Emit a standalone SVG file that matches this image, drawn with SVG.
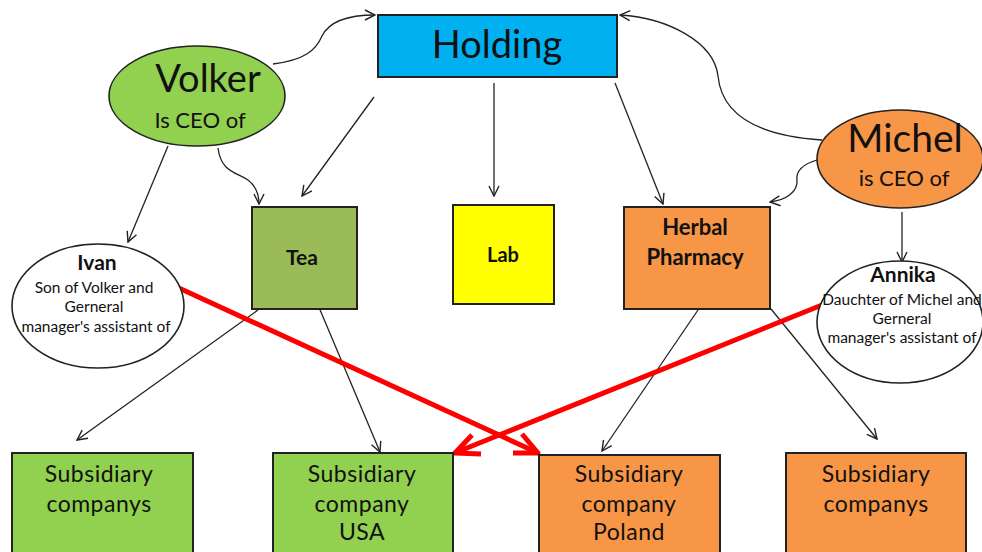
<svg xmlns="http://www.w3.org/2000/svg" width="982" height="552" viewBox="0 0 982 552">
  <style>
    text { font-family: Lato, "Liberation Sans", sans-serif; fill: #111; text-anchor: middle; }
    .box { stroke: #222; stroke-width: 2; }
    .oval { stroke: #222; stroke-width: 1.6; }
    .link { fill: none; stroke: #222; stroke-width: 1.3; marker-end: url(#arr); }
    .red { fill: none; stroke: #ff0000; stroke-width: 5; stroke-linejoin: round; }
    .b { font-weight: bold; }
    .note { font-size: 15.5px; }
    .sub { font-size: 23px; letter-spacing: 0.5px; }
  </style>
  <defs>
    <marker id="arr" viewBox="0 0 12 12" refX="11" refY="6" markerWidth="12" markerHeight="12" markerUnits="userSpaceOnUse" orient="auto">
      <path d="M1,1 L11,6 L1,11" fill="none" stroke="#222" stroke-width="1.4"/>
    </marker>
  </defs>

  <!-- connectors -->
  <g id="connectors">
    <path class="link" d="M273,64 C305,60 316,50 322,36 C330,20 350,15 375,15"/>
    <path class="link" d="M822,140 C762,136 722,118 718,76 C714,42 668,18 620,15"/>
    <path class="link" d="M218,148 C221,172 236,172 248,180 C257,187 259,196 259,204"/>
    <path class="link" d="M168,146 L128,242"/>
    <path class="link" d="M374,97 L302,196"/>
    <path class="link" d="M494,83 L494,196"/>
    <path class="link" d="M615,83 L663,204"/>
    <path class="link" d="M817,160 C800,165 796,172 797,180 C798,192 786,200 770,202"/>
    <path class="link" d="M902,212 L902,262"/>
    <path class="link" d="M258,310 L77,440"/>
    <path class="link" d="M318,305 L380,452"/>
    <path class="link" d="M698,310 L602,451"/>
    <path class="link" d="M771,309 L877,439"/>
    <!-- red cross-links with open heads -->
    <path class="red" d="M168,283 L536,452"/>
    <path class="red" d="M513,453 L538,453 L522,434"/>
    <path class="red" d="M822,305 L457,452"/>
    <path class="red" d="M481,454 L455,453 L472,435"/>
  </g>

  <g id="holding">
    <rect class="box" x="378" y="15" width="239" height="62" fill="#00b0f0"/>
    <text x="497" y="58" font-size="38">Holding</text>
  </g>

  <g id="volker">
    <ellipse class="oval" cx="197" cy="96" rx="88" ry="50" fill="#92d050"/>
    <text x="208" y="92" font-size="38">Volker</text>
    <text x="200" y="128" font-size="22">Is CEO of</text>
  </g>

  <g id="michel">
    <ellipse class="oval" cx="900" cy="159" rx="83" ry="49" fill="#f79646"/>
    <text x="905" y="152" font-size="39">Michel</text>
    <text x="904" y="186" font-size="22">is CEO of</text>
  </g>

  <g id="tea">
    <rect class="box" x="252" y="207" width="105" height="102" fill="#9bbb59"/>
    <text class="b" x="302" y="265" font-size="21">Tea</text>
  </g>

  <g id="lab">
    <rect class="box" x="453" y="205" width="101" height="99" fill="#ffff00"/>
    <text class="b" x="503" y="262" font-size="20">Lab</text>
  </g>

  <g id="herbal-pharmacy">
    <rect class="box" x="624" y="207" width="146" height="102" fill="#f79646"/>
    <text class="b" x="695" y="235" font-size="22">Herbal</text>
    <text class="b" x="695" y="265" font-size="22">Pharmacy</text>
  </g>

  <g id="ivan">
    <ellipse class="oval" cx="98" cy="306" rx="86" ry="62" fill="#ffffff"/>
    <text class="b" x="97" y="270" font-size="21">Ivan</text>
    <text class="note" x="94" y="293">Son of Volker and</text>
    <text class="note" x="94" y="312">Gerneral</text>
    <text class="note" x="96" y="332">manager's assistant of</text>
  </g>

  <g id="annika">
    <ellipse class="oval" cx="900" cy="322" rx="83" ry="61" fill="#ffffff"/>
    <text class="b" x="903" y="282" font-size="21">Annika</text>
    <text class="note" x="902" y="305">Dauchter of Michel and</text>
    <text class="note" x="902" y="324">Gerneral</text>
    <text class="note" x="902" y="343">manager's assistant of</text>
  </g>

  <g id="subsidiaries-left">
    <rect class="box" x="12" y="453" width="181" height="110" fill="#92d050"/>
    <text class="sub" x="99" y="482">Subsidiary</text>
    <text class="sub" x="99" y="512">companys</text>
  </g>

  <g id="subsidiary-usa">
    <rect class="box" x="273" y="453" width="180" height="110" fill="#92d050"/>
    <text class="sub" x="362" y="482">Subsidiary</text>
    <text class="sub" x="362" y="512">company</text>
    <text class="sub" x="362" y="540">USA</text>
  </g>

  <g id="subsidiary-poland">
    <rect class="box" x="539" y="455" width="181" height="110" fill="#f79646"/>
    <text class="sub" x="629" y="482">Subsidiary</text>
    <text class="sub" x="629" y="512">company</text>
    <text class="sub" x="629" y="540">Poland</text>
  </g>

  <g id="subsidiaries-right">
    <rect class="box" x="786" y="453" width="180" height="110" fill="#f79646"/>
    <text class="sub" x="876" y="482">Subsidiary</text>
    <text class="sub" x="876" y="512">companys</text>
  </g>
</svg>
